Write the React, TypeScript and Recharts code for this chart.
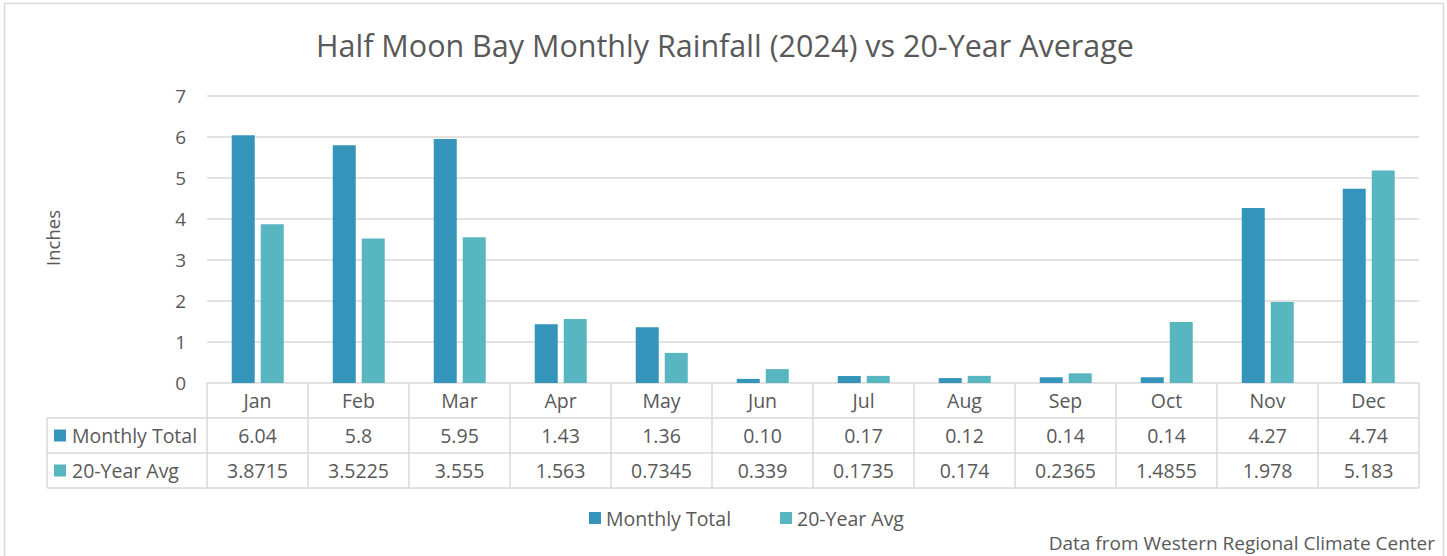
import React from "react";
import { BarChart, Bar, XAxis, YAxis, CartesianGrid, Customized } from "recharts";

// Monthly rainfall at Half Moon Bay, 2024, with the 20-year average (inches)
const months = ["Jan", "Feb", "Mar", "Apr", "May", "Jun", "Jul", "Aug", "Sep", "Oct", "Nov", "Dec"];
const monthlyTotalText = ["6.04", "5.8", "5.95", "1.43", "1.36", "0.10", "0.17", "0.12", "0.14", "0.14", "4.27", "4.74"];
const avg20Text = ["3.8715", "3.5225", "3.555", "1.563", "0.7345", "0.339", "0.1735", "0.174", "0.2365", "1.4855", "1.978", "5.183"];
const yTicks = [0, 1, 2, 3, 4, 5, 6, 7];

const monthlyTotal = monthlyTotalText.map(Number);
const avg20 = avg20Text.map(Number);

const seriesNames = ["Monthly Total", "20-Year Avg"];
const seriesColors = ["#3494BA", "#58B6C0"];
const seriesText = [monthlyTotalText, avg20Text];

const data = months.map((m, i) => ({ month: m, total: monthlyTotal[i], avg: avg20[i] }));

// layout
const W = 1447;
const H = 556;
const PLOT_LEFT = 207;
const PLOT_RIGHT = 1419;
const PLOT_TOP = 96;
const AXIS_Y = 383;
const ROW_H = 35;
const TABLE_LEFT = 47;
const Y_AXIS_W = 60;
const X_AXIS_H = ROW_H * 3;
const FONT = "'Open Sans', Lato, sans-serif";
const TEXT = "#595959";
const LINE = "#D9D9D9";
const COL_W = (PLOT_RIGHT - PLOT_LEFT) / months.length;
const FS = 19.5;

// One column of the data table, drawn under each category
const TableColumn = (props: any) => {
  const { x, y, payload, index } = props;
  const left = x - COL_W / 2;
  const right = x + COL_W / 2;
  return (
    <g>
      <line x1={left} x2={left} y1={y} y2={y + X_AXIS_H} stroke={LINE} strokeWidth={1.5} />
      {index === months.length - 1 && (
        <line x1={right} x2={right} y1={y} y2={y + X_AXIS_H} stroke={LINE} strokeWidth={1.5} />
      )}
      <text x={x} y={y + ROW_H / 2} textAnchor="middle" dominantBaseline="central" fontSize={FS} fill={TEXT} fontFamily={FONT}>
        {payload.value}
      </text>
      {seriesText.map((arr, r) => (
        <text
          key={r}
          x={x}
          y={y + ROW_H * (r + 1) + ROW_H / 2}
          textAnchor="middle"
          dominantBaseline="central"
          fontSize={FS}
          fill={TEXT}
          fontFamily={FONT}
        >
          {arr[index]}
        </text>
      ))}
    </g>
  );
};

const YTick = (props: any) => {
  const { x, y, payload } = props;
  return (
    <text x={x} y={y} textAnchor="end" dominantBaseline="central" fontSize={19} fill={TEXT} fontFamily={FONT}>
      {payload.value}
    </text>
  );
};

// Title, frame, table row headers, legend and source note
const Decorations = () => (
  <g>
    <rect x={4.5} y={3.5} width={1439} height={H + 10} fill="none" stroke={LINE} strokeWidth={1.5} />
    <text x={725} y={45} textAnchor="middle" dominantBaseline="central" fontSize={30.5} fill={TEXT} fontFamily={FONT}>
      Half Moon Bay Monthly Rainfall (2024) vs 20-Year Average
    </text>
    <text
      x={0}
      y={0}
      transform={`translate(52, 238) rotate(-90)`}
      textAnchor="middle"
      dominantBaseline="central"
      fontSize={18.5}
      fill={TEXT}
      fontFamily={FONT}
    >
      Inches
    </text>
    {[1, 2, 3].map((r) => (
      <line key={r} x1={TABLE_LEFT} x2={PLOT_RIGHT} y1={AXIS_Y + ROW_H * r} y2={AXIS_Y + ROW_H * r} stroke={LINE} strokeWidth={1.5} />
    ))}
    <line x1={TABLE_LEFT} x2={TABLE_LEFT} y1={AXIS_Y + ROW_H} y2={AXIS_Y + ROW_H * 3} stroke={LINE} strokeWidth={1.5} />
    {seriesNames.map((name, r) => {
      const cy = AXIS_Y + ROW_H * (r + 1) + ROW_H / 2;
      return (
        <g key={name}>
          <rect x={54} y={cy - 6} width={12} height={12} fill={seriesColors[r]} />
          <text x={72} y={cy} dominantBaseline="central" fontSize={FS} fill={TEXT} fontFamily={FONT}>
            {name}
          </text>
        </g>
      );
    })}
    {seriesNames.map((name, r) => {
      const lx = r === 0 ? 589 : 780;
      const cy = 518;
      return (
        <g key={"lg" + name}>
          <rect x={lx} y={cy - 6} width={12} height={12} fill={seriesColors[r]} />
          <text x={lx + 17} y={cy} dominantBaseline="central" fontSize={FS} fill={TEXT} fontFamily={FONT}>
            {name}
          </text>
        </g>
      );
    })}
    <text x={1435} y={543} textAnchor="end" dominantBaseline="central" fontSize={19} fill={TEXT} fontFamily={FONT}>
      Data from Western Regional Climate Center
    </text>
  </g>
);

export default function App() {
  return (
    <div style={{ position: "absolute", left: 0, top: 0, width: W, height: H, background: "#fff" }}>
      <BarChart
        width={W}
        height={H}
        data={data}
        margin={{ top: PLOT_TOP, right: W - PLOT_RIGHT, left: PLOT_LEFT - Y_AXIS_W, bottom: H - AXIS_Y - X_AXIS_H }}
        barGap={6}
        barCategoryGap="24.5%"
      >
        <CartesianGrid vertical={false} stroke={LINE} strokeWidth={1.5} />
        <YAxis
          width={Y_AXIS_W}
          domain={[0, 7]}
          ticks={yTicks}
          axisLine={false}
          tickLine={false}
          tickSize={0}
          tickMargin={21}
          tick={<YTick />}
          interval={0}
        />
        <XAxis
          dataKey="month"
          height={X_AXIS_H}
          axisLine={false}
          tickLine={false}
          tickSize={0}
          tickMargin={0}
          interval={0}
          tick={<TableColumn />}
        />
        <Bar dataKey="total" name={seriesNames[0]} fill={seriesColors[0]} isAnimationActive={false} />
        <Bar dataKey="avg" name={seriesNames[1]} fill={seriesColors[1]} isAnimationActive={false} />
        <Customized component={<Decorations />} />
      </BarChart>
    </div>
  );
}
